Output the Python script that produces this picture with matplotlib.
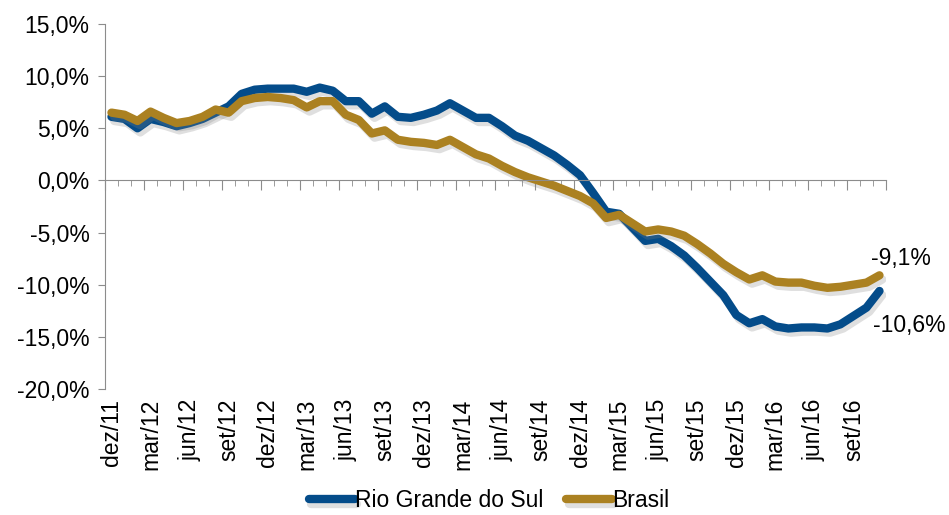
import numpy as np
import matplotlib
matplotlib.use("Agg")
import matplotlib.pyplot as plt
import matplotlib.patheffects as pe

# monthly values, dez/11 to nov/16 (%)
rs = [6.1, 5.9, 5.0, 5.9, 5.6, 5.2, 5.5, 5.9, 6.5, 7.1,
      8.3, 8.7, 8.8, 8.8, 8.8, 8.5, 8.9, 8.6, 7.6, 7.6,
      6.4, 7.1, 6.1, 6.0, 6.3, 6.7, 7.4, 6.7, 6.0, 6.0,
      5.2, 4.3, 3.8, 3.1, 2.4, 1.5, 0.5, -1.2, -3.0, -3.2,
      -4.5, -5.8, -5.6, -6.3, -7.2, -8.4, -9.7, -11.0, -12.9, -13.7,
      -13.3, -14.0, -14.2, -14.1, -14.1, -14.2, -13.8, -13.0, -12.2, -10.6]
brasil = [6.5, 6.3, 5.7, 6.6, 6.0, 5.5, 5.7, 6.1, 6.8, 6.5,
          7.6, 7.9, 8.0, 7.9, 7.7, 7.0, 7.6, 7.6, 6.3, 5.8,
          4.5, 4.8, 3.9, 3.7, 3.6, 3.4, 3.9, 3.2, 2.5, 2.1,
          1.4, 0.8, 0.3, -0.1, -0.5, -1.0, -1.5, -2.2, -3.6, -3.3,
          -4.1, -4.9, -4.7, -4.9, -5.3, -6.1, -7.0, -8.0, -8.8, -9.5,
          -9.1, -9.7, -9.8, -9.8, -10.1, -10.3, -10.2, -10.0, -9.8, -9.1]

# every third month gets a label
xtick_labels = ['dez/11', 'mar/12', 'jun/12', 'set/12', 'dez/12', 'mar/13', 'jun/13',
                'set/13', 'dez/13', 'mar/14', 'jun/14', 'set/14', 'dez/14', 'mar/15',
                'jun/15', 'set/15', 'dez/15', 'mar/16', 'jun/16', 'set/16']
yticks = [15, 10, 5, 0, -5, -10, -15, -20]
ytick_labels = ['15,0%', '10,0%', '5,0%', '0,0%', '-5,0%', '-10,0%', '-15,0%', '-20,0%']
end_labels = ['-10,6%', '-9,1%']

plt.rcParams['font.family'] = ['Liberation Sans', 'DejaVu Sans']
plt.rcParams['font.size'] = 16.5

blue = '#044C8A'
gold = '#AB8121'
gray = '#8C8C8C'

x = np.arange(len(rs))
fig = plt.figure(figsize=(9.49, 5.15), dpi=100)
ax = fig.add_axes([0.1106, 0.2447, 0.8230, 0.7087])

shadow = [pe.SimpleLineShadow(offset=(2, -3), shadow_color='gray', alpha=0.25), pe.Normal()]
ax.plot(x, rs, color=blue, lw=6, solid_capstyle='round', solid_joinstyle='round',
        label='Rio Grande do Sul', path_effects=shadow)
ax.plot(x, brasil, color=gold, lw=6, solid_capstyle='round', solid_joinstyle='round',
        label='Brasil', path_effects=shadow)

ax.set_xlim(-0.5, len(rs) - 0.5)
ax.set_ylim(-20, 15)
ax.set_yticks(yticks)
ax.set_yticklabels(ytick_labels)

# spines: y axis on the left, category axis crossing at zero
for s in ['top', 'right']:
    ax.spines[s].set_visible(False)
ax.spines['left'].set_color(gray)
ax.spines['bottom'].set_color(gray)
ax.spines['bottom'].set_position(('data', 0))
ax.tick_params(axis='y', color=gray, length=5, pad=6)

bounds = np.arange(-0.5, len(rs), 1)
ax.set_xticks(bounds[::3])
ax.set_xticks(bounds, minor=True)
ax.tick_params(axis='x', which='major', length=7, color=gray, labelbottom=False)
ax.tick_params(axis='x', which='minor', length=4, color=gray)

# month labels sit below the plot area
sec = ax.secondary_xaxis('bottom')
sec.set_xticks(x[::3])
sec.set_xticklabels(xtick_labels, rotation=90)
sec.tick_params(length=0, pad=7)
sec.spines['bottom'].set_visible(False)

# last values
ax.annotate(end_labels[0], (x[-1], rs[-1]), xytext=(-5, -25), textcoords='offset points',
            ha='left', va='center')
ax.annotate(end_labels[1], (x[-1], brasil[-1]), xytext=(-6, 12), textcoords='offset points',
            ha='left', va='center')

fig.legend(loc='lower center', bbox_to_anchor=(0.515, -0.035), ncol=2, frameon=False,
           handlelength=2.0, handletextpad=0.0, columnspacing=1.0)

plt.savefig('out.png', dpi=100)
